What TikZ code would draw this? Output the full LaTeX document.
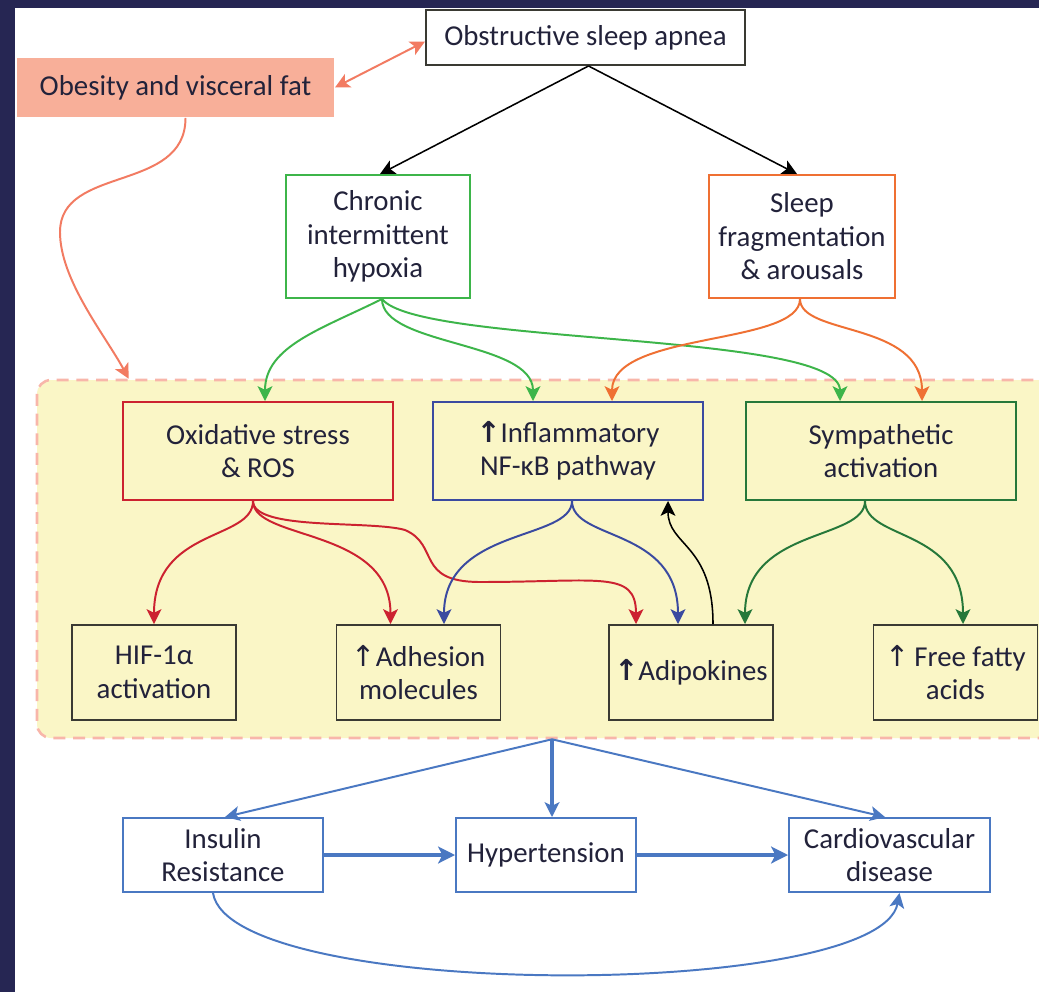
\documentclass[tikz,border=0pt]{standalone}
\usepackage{fontspec}
\setmainfont{Carlito}
\newfontfamily\arrowfont{DejaVu Sans}
\usetikzlibrary{arrows.meta}

\newcommand{\px}{0.025cm}
\newcommand{\upb}{{\arrowfont\bfseries ↑}}
\newcommand{\upt}{{\arrowfont ↑}}

\definecolor{navy}{HTML}{262653}
\definecolor{salmonfill}{HTML}{F8AF99}
\definecolor{salmonline}{HTML}{F27B62}
\definecolor{hypgreen}{HTML}{3DB54A}
\definecolor{fragorange}{HTML}{EF7033}
\definecolor{oxred}{HTML}{CC2230}
\definecolor{nfblue}{HTML}{3A4AA0}
\definecolor{symgreen}{HTML}{26783A}
\definecolor{outblue}{HTML}{4A78C2}
\definecolor{pale}{HTML}{FAF6C6}
\definecolor{zonedash}{HTML}{F8B6AA}
\definecolor{boxgrey}{HTML}{3A3A33}
\definecolor{txt}{HTML}{22223A}

\tikzset{
    box/.style={draw, line width=1.4pt, fill=white, align=center, inner sep=0pt,
        text=txt, font=\fontsize{20.5}{23.8}\selectfont},
    dims/.style 2 args={minimum width=#1*\px, minimum height=#2*\px},
    zone/.style={draw=zonedash, fill=pale, line width=1.8pt, rounded corners=10pt,
        dash pattern=on 8.5pt off 5.5pt},
    link/.style={line width=1.4pt, -{Stealth[length=10.5pt,width=10.5pt,inset=2.5pt]}},
    fat/.style={line width=3.5pt, -{Stealth[length=12pt,width=12pt,inset=3pt]}}
    }

\begin{document}
\begin{tikzpicture}[x=\px, y=-\px]
    % frame
    \useasboundingbox (0,0) rectangle (1039,992);
    \clip (0,0) rectangle (1039,992);
    \fill[navy] (0,0) rectangle (1039,992);
    \fill[white] (15,8) rectangle (1039,992);

    % shaded zone
    \node[zone, dims={1030}{358}] (zone) at (552,559) {};

    % top
    \node[box, draw=boxgrey, dims={319}{55}] (osa) at (585.5,37.5) {Obstructive sleep apnea};
    \node[box, draw=none, fill=salmonfill, dims={317}{59}] (obes) at (175.5,87.5) {Obesity and visceral fat};
    \node[box, draw=hypgreen, dims={184}{123}] (cih) at (378,236.5) {Chronic\\intermittent\\hypoxia};
    \node[box, draw=fragorange, dims={186}{123}] (frag) at (802,236.5) {Sleep\\fragmentation\\\& arousals};

    % mechanisms
    \node[box, draw=oxred, fill=pale, dims={270}{98}] (oxi) at (258,451) {Oxidative stress\\\& ROS};
    \node[box, draw=nfblue, fill=pale, dims={270}{98}] (infl) at (568,451) {\upb Inflammatory\\NF-κB pathway};
    \node[box, draw=symgreen, fill=pale, dims={270}{98}] (symp) at (881,451) {Sympathetic\\activation};

    \node[box, draw=boxgrey, fill=pale, dims={164}{95}] (hif) at (154,672.5) {HIF-1α\\activation};
    \node[box, draw=boxgrey, fill=pale, dims={164}{95}] (adh) at (418.5,672.5) {\upt Adhesion\\molecules};
    \node[box, draw=boxgrey, fill=pale, dims={164}{95}] (adip) at (691,672.5) {\upb Adipokines};
    \node[box, draw=boxgrey, fill=pale, dims={164}{95}] (ffa) at (955.5,672.5) {\upt\,Free fatty\\acids};

    % outcomes
    \node[box, draw=outblue, dims={200}{74}] (ir) at (223,855) {Insulin\\Resistance};
    \node[box, draw=outblue, dims={180}{74}] (htn) at (546,855) {Hypertension};
    \node[box, draw=outblue, dims={201}{74}] (cvd) at (889.5,855) {Cardiovascular\\disease};

    % top arrows
    \draw[link, salmonline, {Stealth[length=10.5pt,width=10.5pt,inset=2.5pt]}-{Stealth[length=10.5pt,width=10.5pt,inset=2.5pt]}]
        (obes.east) -- ([shift={(0,4)}]osa.west);
    \draw[link, line width=1.1pt, black] ([shift={(3,0)}]osa.south) -- ([shift={(2,0)}]cih.north);
    \draw[link, line width=1.1pt, black] ([shift={(3,0)}]osa.south) -- ([shift={(-5,0)}]frag.north);
    \draw[link, salmonline] ([shift={(10,0)}]obes.south) .. controls +(0,75) and (60,165) .. (60,232)
        .. controls (60,280) and (105,335) .. ([shift={(93,0)}]zone.north west);

    % hypoxia
    \draw[link, hypgreen] ([shift={(4,0)}]cih.south) .. controls +(-60,30) and +(0,-55) .. ([shift={(7,0)}]oxi.north);
    \draw[link, hypgreen] ([shift={(4,0)}]cih.south) .. controls +(0,47) and +(0,-60) .. ([shift={(-35,0)}]infl.north);
    \draw[link, hypgreen] ([shift={(4,0)}]cih.south) .. controls +(37,47) and +(0,-70) .. ([shift={(-41,0)}]symp.north);

    % fragmentation
    \draw[link, fragorange] ([shift={(-2,0)}]frag.south) .. controls +(0,47) and +(0,-70) .. ([shift={(44,0)}]infl.north);
    \draw[link, fragorange] ([shift={(-2,0)}]frag.south) .. controls +(0,37) and +(0,-80) .. ([shift={(41,0)}]symp.north);

    % oxidative stress
    \draw[link, oxred] ([shift={(-5,0)}]oxi.south) .. controls +(0,40) and +(0,-97) .. (hif.north);
    \draw[link, oxred] ([shift={(-5,0)}]oxi.south) .. controls +(0,40) and +(0,-97) .. ([shift={(-28,0)}]adh.north);
    \draw[link, oxred] ([shift={(-5,0)}]oxi.south) .. controls +(0,30) and (370,520) .. (405,530)
        .. controls (440,545) and (415,582) .. (480,582)
        .. controls (600,582) and (636,570) .. ([shift={(-55,0)}]adip.north);

    % inflammation
    \draw[link, nfblue] ([shift={(4,0)}]infl.south) .. controls +(0,40) and +(0,-97) .. ([shift={(25.5,0)}]adh.north);
    \draw[link, nfblue] ([shift={(4,0)}]infl.south) .. controls +(0,40) and +(0,-97) .. ([shift={(-13,0)}]adip.north);
    \draw[link, line width=1.1pt, black] ([shift={(22,0)}]adip.north) .. controls +(0,-80) and +(0,45) .. ([shift={(100,0)}]infl.south);

    % sympathetic
    \draw[link, symgreen] ([shift={(-16,0)}]symp.south) .. controls +(0,40) and +(0,-97) .. ([shift={(54,0)}]adip.north);
    \draw[link, symgreen] ([shift={(-16,0)}]symp.south) .. controls +(0,40) and +(0,-97) .. ([shift={(7.5,0)}]ffa.north);

    % outcomes
    \draw[link, outblue] (zone.south) -- ([shift={(2,0)}]ir.north);
    \draw[link, outblue, line width=2.4pt] (zone.south) -- (zone.south |- htn.north);
    \draw[link, outblue] (zone.south) -- ([shift={(-4.5,0)}]cvd.north);
    \draw[fat, outblue] (ir.east) -- (htn.west);
    \draw[fat, outblue] (htn.east) -- (cvd.west);
    \draw[link, outblue] ([shift={(-10,0)}]ir.south) .. controls +(17,108) and +(-20,108) .. ([shift={(10,0)}]cvd.south);
\end{tikzpicture}
\end{document}
